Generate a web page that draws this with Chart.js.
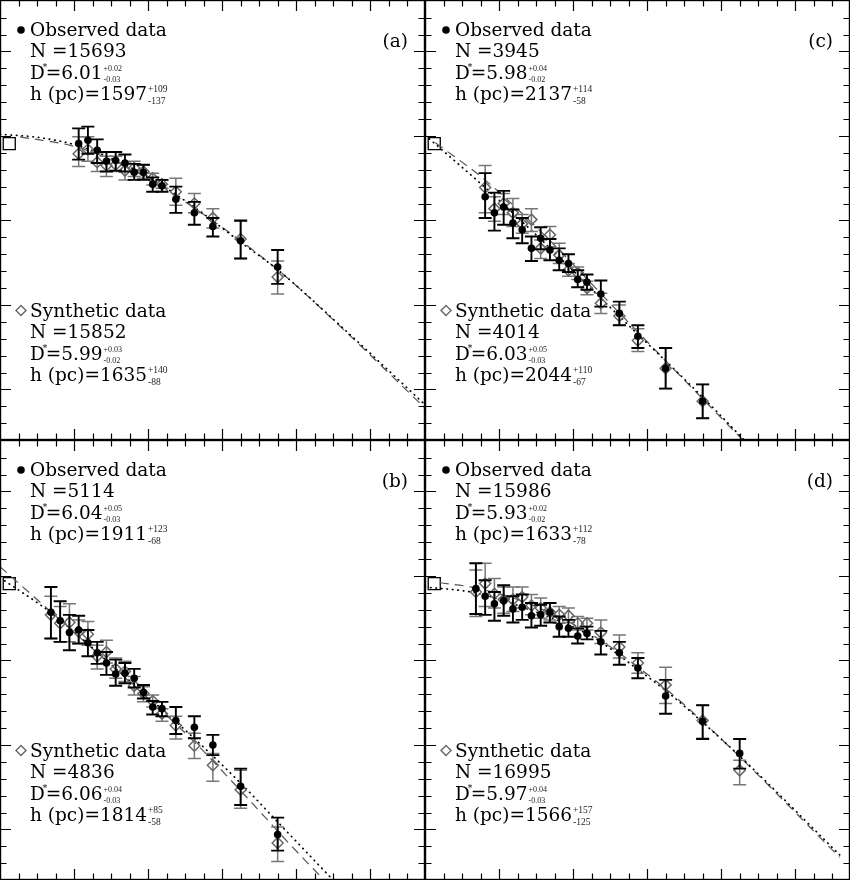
<!DOCTYPE html>
<html>
<head>
<meta charset="utf-8">
<script src="https://cdn.jsdelivr.net/npm/chart.js@4.4.0/dist/chart.umd.min.js"></script>
<style>
  html, body { margin: 0; padding: 0; background: #fff; }
  #wrap { position: relative; width: 850px; height: 880px; }
  #wrap canvas { position: absolute; }
</style>
</head>
<body>
<div id="wrap">
  <canvas id="panel-a" width="425" height="440" style="left:0;top:0"></canvas>
  <canvas id="panel-b" width="425" height="440" style="left:0;top:440px"></canvas>
  <canvas id="panel-c" width="425" height="440" style="left:425px;top:0"></canvas>
  <canvas id="panel-d" width="425" height="440" style="left:425px;top:440px"></canvas>
</div>
<script>
// bins (z) and values
const zA = [1.0625, 1.1875, 1.3125, 1.4375, 1.5625, 1.6875, 1.8125, 1.9375, 2.0625, 2.1875, 2.375, 2.625, 2.875, 3.25, 3.75];
const zB = [0.6875, 0.8125, 0.9375, 1.0625, 1.1875, 1.3125, 1.4375, 1.5625, 1.6875, 1.8125, 1.9375, 2.0625, 2.1875, 2.375, 2.625, 2.875, 3.25, 3.75];
const zC = [0.8125, 0.9375, 1.0625, 1.1875, 1.3125, 1.4375, 1.5625, 1.6875, 1.8125, 1.9375, 2.0625, 2.1875, 2.375, 2.625, 2.875, 3.25, 3.75];
const zD = [0.6875, 0.8125, 0.9375, 1.0625, 1.1875, 1.3125, 1.4375, 1.5625, 1.6875, 1.8125, 1.9375, 2.0625, 2.1875, 2.375, 2.625, 2.875, 3.25, 3.75, 4.25];

// panel (a)
const aObsY  = [2.91, 2.95, 2.83, 2.70, 2.71, 2.68, 2.57, 2.57, 2.43, 2.41, 2.25, 2.09, 1.93, 1.76, 1.45];
const aObsHi = [3.09, 3.11, 2.96, 2.81, 2.81, 2.78, 2.67, 2.66, 2.51, 2.48, 2.40, 2.22, 2.03, 2.00, 1.65];
const aObsLo = [2.72, 2.79, 2.68, 2.58, 2.59, 2.58, 2.48, 2.48, 2.34, 2.34, 2.09, 1.95, 1.81, 1.55, 1.25];
const aSynY  = [2.79, 2.84, 2.69, 2.65, 2.66, 2.59, 2.62, 2.58, 2.50, 2.43, 2.34, 2.20, 2.03, 1.78, 1.33];
const aSynHi = [2.99, 2.99, 2.80, 2.76, 2.76, 2.68, 2.70, 2.66, 2.56, 2.48, 2.50, 2.32, 2.14, 1.99, 1.52];
const aSynLo = [2.64, 2.70, 2.58, 2.52, 2.58, 2.48, 2.52, 2.50, 2.42, 2.38, 2.18, 2.09, 1.91, 1.55, 1.13];
const aDotX  = [0, 0.54, 1.07, 1.89, 2.62, 3.24, 3.76, 4.59, 5.74];
const aDotY  = [3.02, 2.98, 2.88, 2.57, 2.16, 1.75, 1.41, 0.76, -0.18];
const aDashX = [0.27, 1.07, 1.89, 2.62, 3.76, 4.59, 5.74];
const aDashY = [2.99, 2.86, 2.55, 2.15, 1.41, 0.75, -0.22];

// panel (b)
const bObsY  = [2.57, 2.47, 2.33, 2.36, 2.21, 2.09, 1.97, 1.84, 1.85, 1.79, 1.62, 1.45, 1.43, 1.29, 1.21, 1.00, 0.51, -0.06];
const bObsHi = [2.87, 2.70, 2.54, 2.53, 2.36, 2.22, 2.10, 2.01, 1.97, 1.90, 1.71, 1.52, 1.51, 1.45, 1.34, 1.12, 0.72, 0.14];
const bObsLo = [2.26, 2.22, 2.12, 2.20, 2.05, 1.96, 1.83, 1.70, 1.73, 1.68, 1.55, 1.36, 1.34, 1.13, 1.08, 0.88, 0.29, -0.25];
const bSynY  = [2.54, 2.44, 2.45, 2.34, 2.31, 2.05, 2.10, 1.90, 1.87, 1.70, 1.61, 1.52, 1.37, 1.23, 0.99, 0.76, 0.47, -0.16];
const bSynHi = [2.76, 2.64, 2.67, 2.48, 2.46, 2.18, 2.24, 2.03, 1.99, 1.81, 1.69, 1.59, 1.43, 1.34, 1.14, 0.90, 0.70, 0.03];
const bSynLo = [2.26, 2.22, 2.22, 2.20, 2.18, 1.90, 1.97, 1.79, 1.75, 1.59, 1.51, 1.45, 1.28, 1.07, 0.84, 0.57, 0.25, -0.38];
const bDotX  = [0, 0.68, 1.62, 2.62, 3.27, 3.76, 4.5];
const bDotY  = [2.98, 2.57, 1.86, 1.08, 0.53, 0.08, -0.6];
const bDashX = [0, 0.81, 1.62, 2.62, 3.27, 3.92, 4.4];
const bDashY = [3.11, 2.48, 1.85, 1.04, 0.44, -0.18, -0.62];

// panel (c)
const cObsY  = [2.28, 2.09, 2.16, 1.97, 1.89, 1.67, 1.79, 1.65, 1.53, 1.49, 1.30, 1.27, 1.13, 0.90, 0.63, 0.25, -0.14];
const cObsHi = [2.56, 2.33, 2.35, 2.13, 2.03, 1.81, 1.92, 1.78, 1.67, 1.60, 1.41, 1.36, 1.29, 1.04, 0.76, 0.49, 0.06];
const cObsLo = [2.03, 1.88, 1.95, 1.79, 1.73, 1.52, 1.66, 1.53, 1.41, 1.39, 1.21, 1.18, 0.98, 0.76, 0.49, 0.01, -0.34];
const cSynY  = [2.39, 2.14, 2.20, 2.09, 1.96, 2.01, 1.67, 1.83, 1.59, 1.41, 1.38, 1.20, 1.02, 0.87, 0.58, 0.25, -0.14];
const cSynHi = [2.65, 2.28, 2.32, 2.26, 2.07, 2.14, 1.77, 1.93, 1.73, 1.49, 1.45, 1.28, 1.14, 1.00, 0.72, 0.49, 0.06];
const cSynLo = [2.09, 1.99, 2.07, 1.93, 1.85, 1.87, 1.55, 1.69, 1.49, 1.34, 1.30, 1.12, 0.90, 0.76, 0.45, 0.01, -0.34];
const cDotX  = [0, 0.81, 1.62, 2.62, 3.76, 4.4];
const cDotY  = [3.01, 2.39, 1.73, 0.87, -0.10, -0.68];
const cDashX = [0.14, 0.81, 1.62, 2.62, 3.76, 4.35];
const cDashY = [2.92, 2.48, 1.82, 0.91, -0.12, -0.65];

// panel (d)
const dObsY  = [2.85, 2.76, 2.67, 2.71, 2.61, 2.63, 2.53, 2.54, 2.57, 2.40, 2.38, 2.29, 2.32, 2.22, 2.09, 1.91, 1.58, 1.28, 0.90];
const dObsHi = [3.15, 2.95, 2.81, 2.89, 2.76, 2.78, 2.68, 2.66, 2.68, 2.52, 2.48, 2.38, 2.40, 2.35, 2.22, 2.03, 1.77, 1.47, 1.07];
const dObsLo = [2.55, 2.54, 2.47, 2.53, 2.45, 2.48, 2.39, 2.41, 2.45, 2.28, 2.28, 2.20, 2.25, 2.07, 1.95, 1.79, 1.37, 1.07, 0.72];
const dSynY  = [2.81, 2.91, 2.79, 2.72, 2.72, 2.75, 2.65, 2.62, 2.57, 2.54, 2.53, 2.44, 2.44, 2.33, 2.16, 1.97, 1.71, 1.29, 0.70];
const dSynHi = [3.07, 3.15, 2.97, 2.87, 2.87, 2.87, 2.78, 2.74, 2.68, 2.64, 2.62, 2.52, 2.50, 2.48, 2.30, 2.09, 1.92, 1.47, 0.82];
const dSynLo = [2.52, 2.64, 2.62, 2.56, 2.58, 2.62, 2.54, 2.50, 2.48, 2.44, 2.45, 2.36, 2.36, 2.20, 2.03, 1.85, 1.49, 1.08, 0.53];
const dDotX  = [0, 0.68, 1.35, 2.26, 2.88, 3.27, 3.76, 4.32, 5.6];
const dDotY  = [2.87, 2.80, 2.62, 2.28, 1.89, 1.63, 1.26, 0.81, -0.30];
const dDashX = [0.2, 0.61, 1.35, 2.26, 3.27, 3.76, 4.32, 5.6];
const dDashY = [2.92, 2.87, 2.69, 2.30, 1.65, 1.27, 0.80, -0.33];

// local point (open square), same in every panel
const localX = 0.125;
const localY = 2.91;

// ticks (no labels)
const xTicks = [0.25, 0.5, 0.75, 1, 1.25, 1.5, 1.75, 2, 2.25, 2.5, 2.75, 3, 3.25, 3.5, 3.75, 4, 4.25, 4.5, 4.75, 5, 5.25, 5.5];
const xMajor = [1, 2, 3, 4, 5];
const yTicks = [-0.4, -0.2, 0, 0.2, 0.4, 0.6, 0.8, 1, 1.2, 1.4, 1.6, 1.8, 2, 2.2, 2.4, 2.6, 2.8, 3, 3.2, 3.4, 3.6, 3.8, 4, 4.2, 4.4];
const yMajor = [0, 1, 2, 3, 4];

// annotation texts
const tags   = ['(a)', '(b)', '(c)', '(d)'];
const obsN   = ['15693', '5114', '3945', '15986'];
const obsD   = ['6.01', '6.04', '5.98', '5.93'];
const obsDup = ['+0.02', '+0.05', '+0.04', '+0.02'];
const obsDdn = ['-0.03', '-0.03', '-0.02', '-0.02'];
const obsH   = ['1597', '1911', '2137', '1633'];
const obsHup = ['+109', '+123', '+114', '+112'];
const obsHdn = ['-137', '-68', '-58', '-78'];
const synN   = ['15852', '4836', '4014', '16995'];
const synD   = ['5.99', '6.06', '6.03', '5.97'];
const synDup = ['+0.03', '+0.04', '+0.05', '+0.04'];
const synDdn = ['-0.02', '-0.03', '-0.03', '-0.03'];
const synH   = ['1635', '1814', '2044', '1566'];
const synHup = ['+140', '+85', '+110', '+157'];
const synHdn = ['-88', '-58', '-67', '-125'];

const FONT = "18.5px 'DejaVu Serif'";

function pts(xs, ys) {
  return xs.map((x, i) => ({ x: x, y: ys[i] }));
}

function textBlock(ctx, x, y, title, n, d, dUp, dDn, h, hUp, hDn) {
  ctx.fillStyle = '#000';
  ctx.textAlign = 'left';
  ctx.textBaseline = 'alphabetic';
  ctx.font = FONT;
  ctx.fillText(title, x, y);
  ctx.fillText('N =' + n, x, y + 21);

  // D* line
  const yD = y + 43;
  ctx.fillText('D', x, yD);
  const wD = ctx.measureText('D').width;
  ctx.fillText('=' + d, x + wD + 1, yD);
  let end = x + wD + 1 + ctx.measureText('=' + d).width;
  ctx.font = "9px 'DejaVu Serif'";
  ctx.fillText('*', x + wD - 2, yD - 9);
  ctx.font = "8px 'Liberation Serif'";
  ctx.fillStyle = '#222';
  ctx.fillText(dUp, end + 1, yD - 8);
  ctx.fillText(dDn, end + 1, yD + 3);

  // h line
  const yH = y + 64;
  ctx.fillStyle = '#000';
  ctx.font = FONT;
  ctx.fillText('h (pc)=' + h, x, yH);
  end = x + ctx.measureText('h (pc)=' + h).width;
  ctx.font = "9.5px 'Liberation Serif'";
  ctx.fillStyle = '#222';
  ctx.fillText(hUp, end + 1, yH - 8);
  ctx.fillText(hDn, end + 1, yH + 4);
}

const decor = {
  id: 'decor',
  beforeDatasetDraw(chart, args) {
    const ds = chart.data.datasets[args.index];
    if (!ds.errLo) return;
    const ctx = chart.ctx, xs = chart.scales.x, ys = chart.scales.y, a = chart.chartArea;
    ctx.save();
    ctx.beginPath();
    ctx.rect(a.left, a.top, a.width, a.height);
    ctx.clip();
    ctx.strokeStyle = ds.errColor;
    ctx.lineWidth = ds.errWidth;
    ds.data.forEach((p, i) => {
      const px = xs.getPixelForValue(p.x);
      const y1 = ys.getPixelForValue(ds.errHi[i]);
      const y2 = ys.getPixelForValue(ds.errLo[i]);
      ctx.beginPath();
      ctx.moveTo(px, y1); ctx.lineTo(px, y2);
      ctx.moveTo(px - 6.5, y1); ctx.lineTo(px + 6.5, y1);
      ctx.moveTo(px - 6.5, y2); ctx.lineTo(px + 6.5, y2);
      ctx.stroke();
    });
    ctx.restore();
  },
  afterDraw(chart) {
    const ctx = chart.ctx, xs = chart.scales.x, ys = chart.scales.y, a = chart.chartArea;
    const k = chart.options.plugins.decor.k;
    ctx.save();
    // frame
    ctx.strokeStyle = '#000';
    ctx.lineWidth = 1.2;
    ctx.strokeRect(a.left + 0.6, a.top + 0.6, a.width - 1.2, a.height - 1.2);
    // inward ticks on all sides
    ctx.beginPath();
    xTicks.forEach(v => {
      const px = Math.round(xs.getPixelForValue(v)) + 0.5;
      const len = xMajor.includes(v) ? 11 : 6.5;
      ctx.moveTo(px, a.bottom); ctx.lineTo(px, a.bottom - len);
      ctx.moveTo(px, a.top); ctx.lineTo(px, a.top + len);
    });
    yTicks.forEach(v => {
      const py = Math.round(ys.getPixelForValue(v)) + 0.5;
      const len = yMajor.includes(v) ? 11 : 6.5;
      ctx.moveTo(a.left, py); ctx.lineTo(a.left + len, py);
      ctx.moveTo(a.right, py); ctx.lineTo(a.right - len, py);
    });
    ctx.stroke();

    // legend markers
    ctx.fillStyle = '#000';
    ctx.beginPath();
    ctx.arc(a.left + 21, a.top + 30, 3.8, 0, Math.PI * 2);
    ctx.fill();
    ctx.strokeStyle = '#666';
    ctx.lineWidth = 1.4;
    ctx.beginPath();
    const cx = a.left + 21, cy = a.top + 310.5;
    ctx.moveTo(cx, cy - 5); ctx.lineTo(cx + 5, cy); ctx.lineTo(cx, cy + 5); ctx.lineTo(cx - 5, cy);
    ctx.closePath();
    ctx.stroke();

    // texts
    textBlock(ctx, a.left + 30, a.top + 36, 'Observed data', obsN[k], obsD[k], obsDup[k], obsDdn[k], obsH[k], obsHup[k], obsHdn[k]);
    textBlock(ctx, a.left + 30, a.top + 316.5, 'Synthetic data', synN[k], synD[k], synDup[k], synDdn[k], synH[k], synHup[k], synHdn[k]);
    ctx.font = FONT;
    ctx.fillStyle = '#000';
    ctx.textAlign = 'right';
    ctx.fillText(tags[k], a.left + 408, a.top + 46.5);
    ctx.restore();
  }
};

function drawPanel(canvasId, k, z, obsY, obsLo, obsHi, synY, synLo, synHi, dotX, dotY, dashX, dashY) {
  const el = document.getElementById(canvasId);
  if (!el) {
    console.warn("canvas not found", canvasId);
    return;
  }
  new Chart(el, {
    type: 'scatter',
    data: {
      datasets: [
        {
          label: 'Observed data',
          data: pts(z, obsY),
          errLo: obsLo, errHi: obsHi, errColor: '#000', errWidth: 1.9,
          pointStyle: 'circle', pointRadius: 3.8,
          backgroundColor: '#000', borderColor: '#000', borderWidth: 0
        },
        {
          label: 'Synthetic data',
          data: pts(z, synY),
          errLo: synLo, errHi: synHi, errColor: '#777', errWidth: 1.5,
          pointStyle: 'rectRot', pointRadius: 5.5,
          backgroundColor: 'rgba(255,255,255,0)', borderColor: '#666', borderWidth: 1.5
        },
        {
          label: 'model 1',
          data: pts(dotX, dotY),
          showLine: true, pointRadius: 0,
          borderColor: '#000', borderWidth: 1.7, borderDash: [0.5, 5], borderCapStyle: 'round',
          cubicInterpolationMode: 'monotone'
        },
        {
          label: 'model 2',
          data: pts(dashX, dashY),
          showLine: true, pointRadius: 0,
          borderColor: '#555', borderWidth: 1.2, borderDash: [9, 6],
          cubicInterpolationMode: 'monotone'
        },
        {
          label: 'local',
          data: [{ x: localX, y: localY }],
          pointStyle: 'rect', pointRadius: 8.5,
          backgroundColor: '#fff', borderColor: '#000', borderWidth: 1.3
        }
      ]
    },
    options: {
      responsive: false,
      animation: false,
      devicePixelRatio: 1,
      events: [],
      layout: { padding: 0, autoPadding: false },
      plugins: {
        legend: { display: false },
        tooltip: { enabled: false },
        decor: { k: k }
      },
      scales: {
        x: { type: 'linear', min: 0, max: 5.74, display: false },
        y: { type: 'linear', min: -0.598, max: 4.609, display: false }
      }
    },
    plugins: [decor]
  });
}

drawPanel('panel-a', 0, zA, aObsY, aObsLo, aObsHi, aSynY, aSynLo, aSynHi, aDotX, aDotY, aDashX, aDashY);
drawPanel('panel-b', 1, zB, bObsY, bObsLo, bObsHi, bSynY, bSynLo, bSynHi, bDotX, bDotY, bDashX, bDashY);
drawPanel('panel-c', 2, zC, cObsY, cObsLo, cObsHi, cSynY, cSynLo, cSynHi, cDotX, cDotY, cDashX, cDashY);
drawPanel('panel-d', 3, zD, dObsY, dObsLo, dObsHi, dSynY, dSynLo, dSynHi, dDotX, dDotY, dDashX, dDashY);
</script>
</body>
</html>
